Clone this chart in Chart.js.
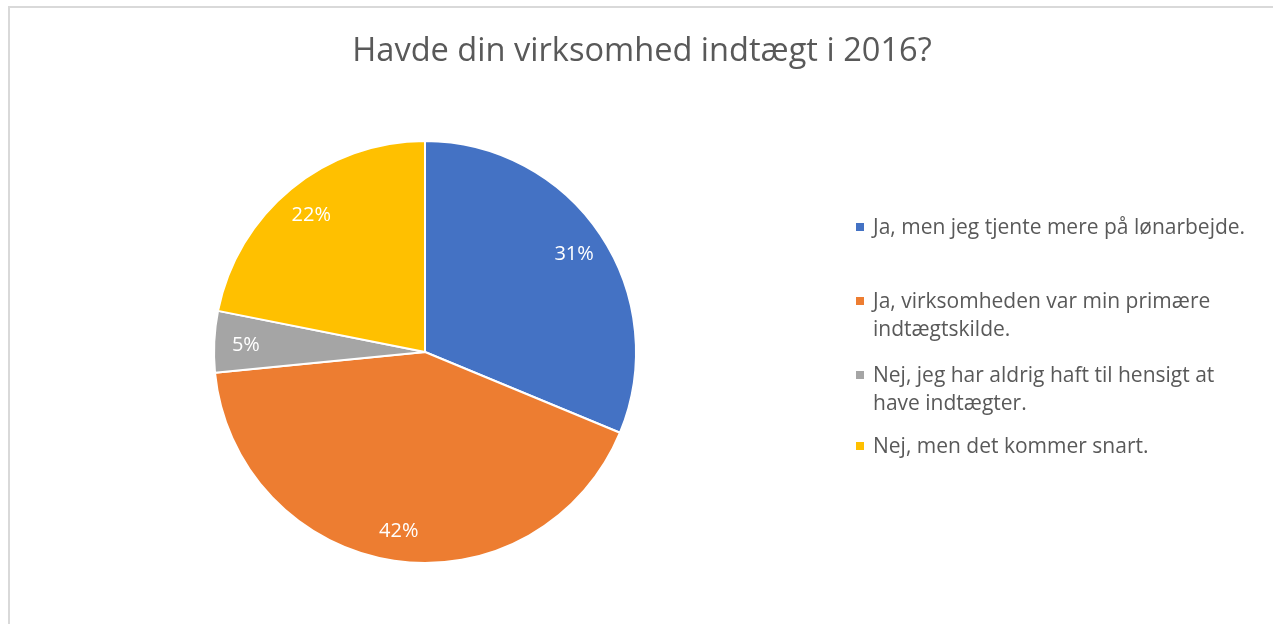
<!DOCTYPE html>
<html>
<head>
<meta charset="utf-8">
<script src="https://cdn.jsdelivr.net/npm/chart.js@4/dist/chart.umd.min.js"></script>
<style>
  html, body { margin: 0; padding: 0; background: #ffffff; }
  #wrap { position: relative; width: 1273px; height: 624px; overflow: hidden; }
  #frame { position: absolute; left: 8px; top: 6px; width: 1400px; height: 800px;
           border: 2px solid #d9d9d9; box-sizing: border-box; }
  #chart { position: absolute; left: 0; top: 0; }
  #title { position: absolute; left: 342px; width: 600px; top: 29px; text-align: center;
           font-family: 'Open Sans', sans-serif; font-size: 32.6px; line-height: 40px; color: #595959;
           white-space: nowrap; }
  .item { position: absolute; left: 856px; width: 410px; font-family: 'Open Sans', sans-serif;
          font-size: 21px; line-height: 28px; color: #595959; }
  .item .sw { position: absolute; left: 0; top: 11px; width: 8px; height: 8px; }
  .item .tx { position: absolute; left: 17px; width: 386px; }
</style>
</head>
<body>
<div id="wrap">
  <div id="frame"></div>
  <canvas id="chart" width="1273" height="624"></canvas>
  <div id="title"></div>
  <div id="legend"></div>
</div>
<script>
// ---- data ----
const titleText = "Havde din virksomhed indtægt i 2016?";
const categories = [
  "Ja, men jeg tjente mere på lønarbejde.",
  "Ja, virksomheden var min primære indtægtskilde.",
  "Nej, jeg har aldrig haft til hensigt at have indtægter.",
  "Nej, men det kommer snart."
];
const shares = [31.25, 42.19, 4.69, 21.88];
const colors = ["#4472C4", "#ED7D31", "#A5A5A5", "#FFC000"];

// ---- title & legend (HTML text) ----
document.getElementById('title').textContent = titleText;
const legendTops = [212, 286, 360, 431];
const legendEl = document.getElementById('legend');
categories.forEach((c, i) => {
  const it = document.createElement('div');
  it.className = 'item';
  it.style.top = legendTops[i] + 'px';
  const sw = document.createElement('div');
  sw.className = 'sw';
  sw.style.background = colors[i];
  const tx = document.createElement('div');
  tx.className = 'tx';
  tx.textContent = c;
  it.appendChild(sw); it.appendChild(tx);
  legendEl.appendChild(it);
});

// ---- data labels plugin ----
const pieLabels = {
  id: 'pieLabels',
  afterDatasetsDraw(chart) {
    const ctx = chart.ctx;
    const meta = chart.getDatasetMeta(0);
    const ds = chart.data.datasets[0];
    ctx.save();
    ctx.font = "20px 'Open Sans', sans-serif";
    ctx.fillStyle = '#ffffff';
    ctx.textAlign = 'center';
    ctx.textBaseline = 'middle';
    meta.data.forEach((arc, i) => {
      const p = arc.getProps(['x', 'y', 'startAngle', 'endAngle', 'outerRadius'], true);
      const mid = (p.startAngle + p.endAngle) / 2;
      const r = p.outerRadius * 0.85;
      ctx.fillText(Math.round(ds.data[i]) + '%', p.x + Math.cos(mid) * r, p.y + Math.sin(mid) * r + 2);
    });
    ctx.restore();
  }
};

new Chart(document.getElementById('chart'), {
  type: 'pie',
  data: {
    labels: categories,
    datasets: [{
      data: shares,
      backgroundColor: colors,
      borderColor: '#ffffff',
      borderWidth: 2
    }]
  },
  options: {
    responsive: false,
    animation: false,
    radius: 211,
    layout: { padding: { left: 0, right: 423, top: 80, bottom: 0 } },
    plugins: {
      legend: { display: false },
      title: { display: false },
      tooltip: { enabled: false }
    }
  },
  plugins: [pieLabels]
});
</script>
</body>
</html>
